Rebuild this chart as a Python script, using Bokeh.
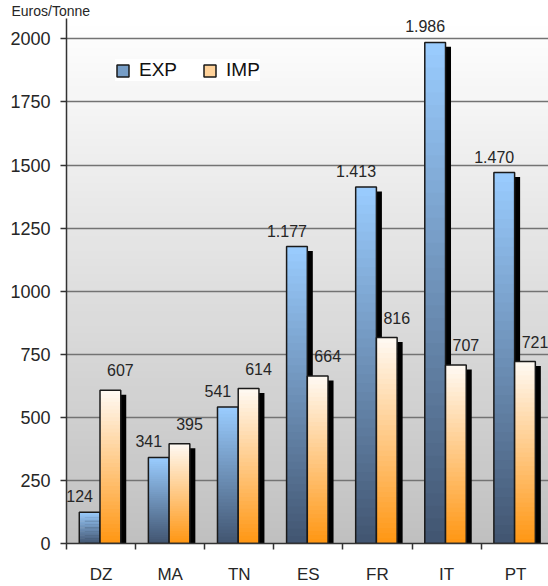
import numpy as np
from bokeh.plotting import figure
from bokeh.models import (Range1d, FixedTicker, Legend, LegendItem, Title,
                          ColumnDataSource, LabelSet)
from bokeh.core.properties import value
from bokeh.embed import file_html
from bokeh.resources import INLINE

# ---------------- data ----------------
countries = ["DZ", "MA", "TN", "ES", "FR", "IT", "PT"]
exp_values = [124, 341, 541, 1177, 1413, 1986, 1470]
imp_values = [607, 395, 614, 664, 816, 707, 721]
y_ticks = [0, 250, 500, 750, 1000, 1250, 1500, 1750, 2000]
series_names = ["EXP", "IMP"]
y_title = "Euros/Tonne"

# ---------------- style ----------------
W, H = 548, 586
B_LEFT, B_TOP, B_BOTTOM = 66, 18, 35
PX_Y = 512.3 / 2000.0
Y_MAX = (H - B_BOTTOM - B_TOP) / PX_Y
CAT_PX = 69.1
X_END = (W - B_LEFT) / CAT_PX
BAR_W = 0.30
PAIR_SHIFT = -0.015
SH_DX = 5.5 / CAT_PX
SH_DY = 4.5 / PX_Y
FONT = "Liberation Sans"
TXT = "#262626"
EXP_TOP, EXP_BOT = "#9acdff", "#415470"
IMP_TOP, IMP_BOT = "#fffaf4", "#ff9612"
BG_TOP, BG_BOT = "#ffffff", "#c0c0c0"


def hex2rgb(h):
    h = h.lstrip("#")
    return np.array([int(h[i:i + 2], 16) for i in (0, 2, 4)], dtype=float)


def lerp(c0, c1, t):
    a, b = hex2rgb(c0), hex2rgb(c1)
    c = a + (b - a) * t
    return "#%02x%02x%02x" % tuple(int(round(v)) for v in c)


def gradient_bars(p, xs, vals, c_bot, c_top, n=40):
    X, B, T, C = [], [], [], []
    for x, v in zip(xs, vals):
        for k in range(n):
            X.append(x)
            B.append(v * k / n)
            T.append(min(v, v * (k + 1.6) / n))
            C.append(lerp(c_bot, c_top, (k + 0.5) / n))
    p.vbar(x=X, width=BAR_W, bottom=B, top=T, fill_color=C, line_color=None)


p = figure(width=W, height=H, output_backend="svg", toolbar_location=None,
           x_range=Range1d(0, X_END), y_range=Range1d(0, Y_MAX),
           min_border_left=B_LEFT, min_border_right=0,
           min_border_top=B_TOP, min_border_bottom=B_BOTTOM)
p.outline_line_color = None
p.background_fill_color = "white"
p.border_fill_color = "white"

# y title, top-left above the frame
p.add_layout(Title(text=y_title, align="left", offset=-55, standoff=0,
                   text_font=FONT, text_font_size="14px", text_font_style="normal",
                   text_color=TXT), "above")

# background gradient
nb = 70
edges = np.linspace(0, Y_MAX, nb + 1)
bg_cols = [lerp(BG_BOT, BG_TOP, (i + 0.5) / nb) for i in range(nb)]
p.quad(left=-1, right=X_END + 1, bottom=edges[:-1], top=edges[1:] + Y_MAX / nb * 0.5,
       fill_color=bg_cols, line_color=None, level="image")

centers = np.arange(len(countries)) + 0.5 + PAIR_SHIFT
x_exp = centers - BAR_W / 2
x_imp = centers + BAR_W / 2
ev = np.array(exp_values, dtype=float)
iv = np.array(imp_values, dtype=float)

# shadows
p.vbar(x=x_exp + SH_DX, width=BAR_W, bottom=0, top=ev - SH_DY, fill_color="black", line_color=None)
p.vbar(x=x_imp + SH_DX, width=BAR_W, bottom=0, top=iv - SH_DY, fill_color="black", line_color=None)

# gradient bars + outlines
gradient_bars(p, x_exp, ev, EXP_BOT, EXP_TOP)
p.vbar(x=x_exp, width=BAR_W, top=ev, fill_color=None, line_color="#1a1a1a", line_width=1.5)
gradient_bars(p, x_imp, iv, IMP_BOT, IMP_TOP)
p.vbar(x=x_imp, width=BAR_W, top=iv, fill_color=None, line_color="#1a1a1a", line_width=1.5)


def fmt(v):
    return f"{int(v):,}".replace(",", ".")


src_e = ColumnDataSource(dict(x=x_exp, y=ev, t=[fmt(v) for v in ev]))
src_i = ColumnDataSource(dict(x=x_imp, y=iv, t=[fmt(v) for v in iv]))
for src, dx, dy in ((src_e, -10, 16), (src_i, 10, 20)):
    p.add_layout(LabelSet(x="x", y="y", text="t", source=src, x_offset=dx, y_offset=dy,
                          text_align="center", text_baseline="middle",
                          text_font=value(FONT), text_font_size=value("16px"),
                          text_color=TXT))

# axes
p.xaxis.ticker = FixedTicker(ticks=list(np.arange(len(countries)) + 0.5),
                             minor_ticks=list(range(len(countries) + 1)))
p.xaxis.major_label_overrides = {float(i + 0.5): c for i, c in enumerate(countries)}
p.xaxis.major_tick_out = 0
p.xaxis.major_tick_in = 0
p.xaxis.minor_tick_out = 6
p.xaxis.minor_tick_in = 0
p.xaxis.major_label_standoff = 15
p.yaxis.ticker = FixedTicker(ticks=y_ticks, minor_ticks=[])
p.yaxis.major_tick_out = 6
p.yaxis.major_tick_in = 0
p.yaxis.major_label_standoff = 10
for ax in (p.xaxis, p.yaxis):
    ax.axis_line_color = "#333333"
    ax.axis_line_width = 1.5
    ax.major_tick_line_color = "#333333"
    ax.minor_tick_line_color = "#333333"
    ax.major_tick_line_width = 1.5
    ax.minor_tick_line_width = 1.5
    ax.major_label_text_font = FONT
    ax.major_label_text_font_size = "18px"
    ax.major_label_text_color = TXT
p.xaxis.major_label_text_font_size = "17px"

p.xgrid.grid_line_color = None
p.ygrid.ticker = FixedTicker(ticks=y_ticks[1:] + [Y_MAX])
p.ygrid.grid_line_color = "#737373"
p.ygrid.grid_line_width = 1.5

# legend (proxy renderers placed outside the visible range)
r_e = p.vbar(x=[-10], top=[1], width=BAR_W, fill_color=lerp(EXP_BOT, EXP_TOP, 0.6),
             line_color="#1a1a1a", line_width=1.5)
r_i = p.vbar(x=[-10], top=[1], width=BAR_W, fill_color=lerp(IMP_BOT, IMP_TOP, 0.6),
             line_color="#1a1a1a", line_width=1.5)
leg = Legend(items=[LegendItem(label=series_names[0], renderers=[r_e]),
                    LegendItem(label=series_names[1], renderers=[r_i])],
             orientation="horizontal", location=(49, 462),
             glyph_width=15, glyph_height=15, label_standoff=9, spacing=25,
             padding=14, margin=0, border_line_color=None,
             background_fill_color="white", background_fill_alpha=1.0,
             label_text_font=FONT, label_text_font_size="19px", label_text_color="#111111")
p.add_layout(leg, "center")

open("out.html", "w").write(file_html(p, INLINE))
